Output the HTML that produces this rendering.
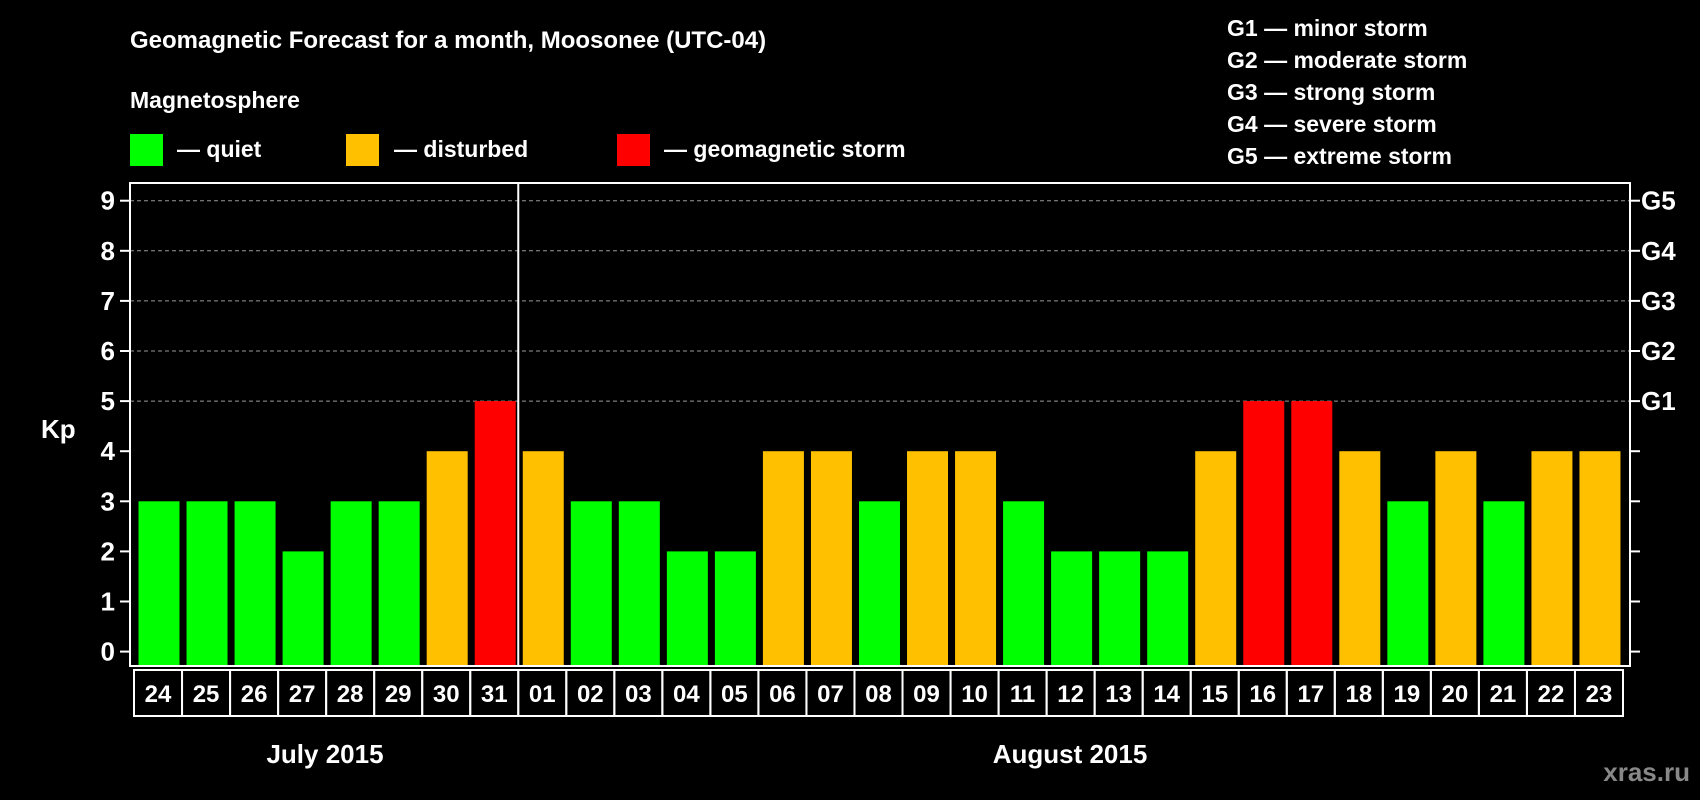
<!DOCTYPE html>
<html><head><meta charset="utf-8"><style>
html,body{margin:0;padding:0;background:#000;width:1700px;height:800px;overflow:hidden}
svg{display:block;font-family:"Liberation Sans",Arial,sans-serif;font-weight:bold}
</style></head><body>
<svg id="chart" width="1700" height="800" viewBox="0 0 1700 800" xmlns="http://www.w3.org/2000/svg">
<rect width="1700" height="800" fill="#000"/>
<text x="130" y="48" fill="#fff" font-size="24">Geomagnetic Forecast for a month, Moosonee (UTC-04)</text>
<text x="130" y="108" fill="#fff" font-size="23">Magnetosphere</text>
<rect x="130" y="134" width="33" height="32" fill="#00ff00"/>
<text x="177" y="157" fill="#fff" font-size="23">— quiet</text>
<rect x="346" y="134" width="33" height="32" fill="#ffc000"/>
<text x="394" y="157" fill="#fff" font-size="23">— disturbed</text>
<rect x="617" y="134" width="33" height="32" fill="#ff0000"/>
<text x="664" y="157" fill="#fff" font-size="23">— geomagnetic storm</text>
<g fill="#fff" font-size="23">
<text x="1227" y="36">G1 — minor storm</text>
<text x="1227" y="68">G2 — moderate storm</text>
<text x="1227" y="100">G3 — strong storm</text>
<text x="1227" y="132">G4 — severe storm</text>
<text x="1227" y="164">G5 — extreme storm</text>
</g>
<text x="41" y="438" fill="#fff" font-size="26">Kp</text>
<text x="325" y="763" fill="#fff" font-size="26" text-anchor="middle">July 2015</text>
<text x="1070" y="763" fill="#fff" font-size="26" text-anchor="middle">August 2015</text>
<text x="1690" y="781" fill="#888" font-size="26" text-anchor="end">xras.ru</text>
<g id="grid"></g><g id="bars"></g><g id="axes"></g><g id="dates"></g>
</svg>
<script>
const days = ["24","25","26","27","28","29","30","31","01","02","03","04","05","06","07","08","09","10","11","12","13","14","15","16","17","18","19","20","21","22","23"];
const kpValues = [3,3,3,2,3,3,4,5,4,3,3,2,2,4,4,3,4,4,3,2,2,2,4,5,5,4,3,4,3,4,4];
const yTicks = [0,1,2,3,4,5,6,7,8,9];
const gLabels = ["G1","G2","G3","G4","G5"];
const gLevels = [5,6,7,8,9];
const monthSplitIndex = 8;

const NS = "http://www.w3.org/2000/svg";
const plotL = 130, plotR = 1630, plotT = 183, plotB = 666;
const slot0 = 134, pitch = (1623 - 134) / days.length;
const y = v => 651.6 - v * 50.1;
const xSlot = i => slot0 + i * pitch;
function mk(tag, attrs, parent) { const e = document.createElementNS(NS, tag); for (const k in attrs) e.setAttribute(k, attrs[k]); parent.appendChild(e); return e; }
const grid = document.getElementById('grid'), bars = document.getElementById('bars'), axes = document.getElementById('axes'), dates = document.getElementById('dates');

yTicks.forEach(t => {
  if (t >= 5) {
    const l = mk('line', {x1: plotL, x2: plotR, y1: y(t), y2: y(t), stroke: '#999', 'stroke-width': 1, 'stroke-dasharray': '4,3'}, grid);
    
    
  }
  const tk = mk('line', {x1: plotL - 10, x2: plotL, y1: y(t), y2: y(t), stroke: '#fff', 'stroke-width': 2}, axes);
  
  
  const tr = mk('line', {x1: plotR, x2: plotR + 10, y1: y(t), y2: y(t), stroke: '#fff', 'stroke-width': 2}, axes);
  
  
  const lb = mk('text', {x: 115, y: y(t) + 9, fill: '#fff', 'font-size': 26, 'text-anchor': 'end'}, axes);
  lb.textContent = t;
  
  
});
gLabels.forEach((g, i) => {
  const lb = mk('text', {x: 1641, y: y(gLevels[i]) + 9, fill: '#fff', 'font-size': 26}, axes);
  lb.textContent = g;
  
  
});
kpValues.forEach((v, i) => {
  const col = v >= 5 ? '#ff0000' : (v === 4 ? '#ffc000' : '#00ff00');
  const r = mk('rect', {x: xSlot(i) + 4.5, y: y(v), width: 41, height: plotB - y(v), fill: col}, bars);
  
  
  const b = mk('rect', {x: xSlot(i), y: 670, width: pitch, height: 46, fill: 'none', stroke: '#fff', 'stroke-width': 2}, dates);
  
  
  const t = mk('text', {x: xSlot(i) + pitch / 2, y: 702, fill: '#fff', 'font-size': 24, 'text-anchor': 'middle'}, dates);
  t.textContent = days[i];
  
  
});
const frame = mk('rect', {x: plotL, y: plotT, width: plotR - plotL, height: plotB - plotT, fill: 'none', stroke: '#fff', 'stroke-width': 2}, axes);


const dx = xSlot(monthSplitIndex);
const div = mk('line', {x1: dx, x2: dx, y1: plotT, y2: plotB, stroke: '#fff', 'stroke-width': 2}, axes);


</script>
</body></html>
